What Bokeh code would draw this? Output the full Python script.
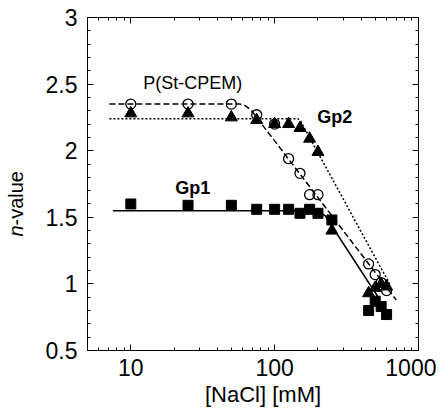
import math
from bokeh.plotting import figure
from bokeh.layouts import row, column
from bokeh.models import FixedTicker, LinearAxis, LogAxis, Label
from bokeh.core.properties import value
from bokeh.embed import file_html
from bokeh.resources import INLINE

# ---- data ----
circ_x = [10, 25, 50, 75, 100, 125, 150, 175, 200, 450, 500, 550, 600]
circ_y = [2.35, 2.35, 2.35, 2.27, 2.20, 1.94, 1.83, 1.67, 1.67, 1.15, 1.07, 1.01, 0.95]

tri_x = [10, 25, 50, 75, 100, 125, 150, 175, 200, 250, 450, 500, 550, 600]
tri_y = [2.28, 2.28, 2.25, 2.23, 2.20, 2.20, 2.17, 2.09, 1.99, 1.40, 0.93, 0.97, 1.00, 0.98]

sq_x = [10, 25, 50, 75, 100, 125, 150, 175, 200, 250, 450, 500, 550, 600]
sq_y = [1.60, 1.59, 1.59, 1.56, 1.56, 1.56, 1.53, 1.56, 1.53, 1.48, 0.80, 0.87, 0.83, 0.77]

# fitted curves (vertices)
gp1_x = [7.5, 185, 205, 225, 525]
gp1_y = [1.55, 1.55, 1.54, 1.51, 0.90]
cpem_x = [7.1, 57, 62, 68, 700]
cpem_y = [2.35, 2.35, 2.34, 2.31, 0.88]
gp2_x = [7.1, 145, 152, 630]
gp2_y = [2.24, 2.24, 2.22, 1.00]

x_ticks = [10, 100, 1000]
x_tick_labels = ["10", "100", "1000"]
y_ticks = [0.5, 1, 1.5, 2, 2.5, 3]
y_tick_labels = ["0.5", "1", "1.5", "2", "2.5", "3"]

FONT = "Liberation Sans"
H = 408       # total height
LW = 40       # width of the y-title strip
XH = 27       # height of the x-title strip
PW = 436 - LW

p = figure(width=PW, height=H - XH, x_axis_type="log", x_range=(5, 1000), y_range=(0.5, 3),
           output_backend="svg", toolbar_location=None,
           min_border_left=87 - LW, min_border_right=18, min_border_top=17,
           min_border_bottom=H - XH - 350)
p.xgrid.grid_line_color = None
p.ygrid.grid_line_color = None
p.outline_line_color = "black"
p.outline_line_width = 1
p.background_fill_color = "white"
p.border_fill_color = "white"

x_minor = [m * d for d in [1, 10, 100] for m in range(2, 10) if 5 <= m * d <= 1000]
y_minor = [round(0.5 + 0.1 * i, 2) for i in range(26)]

xt = FixedTicker(ticks=x_ticks, minor_ticks=x_minor)
yt = FixedTicker(ticks=y_ticks, minor_ticks=y_minor)


def style(ax, show, standoff=9):
    ax.axis_line_color = "black"
    ax.major_tick_line_color = "black"
    ax.minor_tick_line_color = "black"
    ax.major_tick_in = 6
    ax.major_tick_out = 0
    ax.minor_tick_in = 3
    ax.minor_tick_out = 0
    if show:
        ax.major_label_text_font = FONT
        ax.major_label_text_font_size = "23px"
        ax.major_label_text_color = "black"
        ax.major_label_standoff = standoff
    else:
        ax.major_label_text_font_size = "2px"
        ax.major_label_text_alpha = 0
        ax.major_label_standoff = 0


xa = p.xaxis[0]
xa.ticker = xt
xa.major_label_overrides = {t: s for t, s in zip(x_ticks, x_tick_labels)}
style(xa, True, 8)

ya = p.yaxis[0]
ya.ticker = yt
ya.major_label_overrides = {t: s for t, s in zip(y_ticks, y_tick_labels)}
style(ya, True, 10)

top = LogAxis(ticker=xt)
style(top, False)
p.add_layout(top, "above")
right = LinearAxis(ticker=yt)
style(right, False)
p.add_layout(right, "right")

# curves
p.line(gp1_x, gp1_y, line_color="black", line_width=1.5)
p.line(cpem_x, cpem_y, line_color="black", line_width=1.5, line_dash="6 3")
p.line(gp2_x, gp2_y, line_color="black", line_width=1.5, line_dash="2 2")

# markers
p.scatter(sq_x, sq_y, marker="square", size=10, fill_color="black", line_color="black")
p.scatter(tri_x, tri_y, marker="triangle", size=12, fill_color="black", line_color="black")
p.scatter(circ_x, circ_y, marker="circle", size=10, fill_color=None, line_color="black", line_width=1.3)

# annotations
p.add_layout(Label(x=27, y=2.51, text="P(St-CPEM)", text_font=FONT, text_font_size="18px",
                   text_align="center", text_baseline="middle", text_color="black"))
p.add_layout(Label(x=27, y=1.72, text="Gp1", text_font=FONT, text_font_size="18px",
                   text_font_style="bold", text_align="center", text_baseline="middle", text_color="black"))
p.add_layout(Label(x=262, y=2.25, text="Gp2", text_font=FONT, text_font_size="18px",
                   text_font_style="bold", text_align="center", text_baseline="middle", text_color="black"))


def strip(w, h):
    f = figure(width=w, height=h, x_range=(0, w), y_range=(0, h), output_backend="svg",
               toolbar_location=None, min_border=0, outline_line_color=None)
    f.axis.visible = False
    f.xgrid.grid_line_color = None
    f.ygrid.grid_line_color = None
    f.background_fill_color = "white"
    f.border_fill_color = "white"
    return f


# y title strip (italic n + "-value")
yl = strip(LW, H)
jx, jy = 15, H - 225
yl.text(x=[jx], y=[jy], text=["n"], angle=math.pi / 2, text_font=value(FONT), text_font_size="20px",
        text_font_style="italic", text_align="right", text_baseline="middle", text_color="black")
yl.text(x=[jx], y=[jy], text=["-value"], angle=math.pi / 2, text_font=value(FONT), text_font_size="20px",
        text_align="left", text_baseline="middle", text_color="black")

# x title strip
xl = strip(PW, XH)
xl.text(x=[250 - LW], y=[XH - (394 - (H - XH))], text=["[NaCl] [mM]"], text_font=value(FONT),
        text_font_size="22px", text_align="center", text_baseline="middle", text_color="black")

layout = row(yl, column(p, xl, spacing=0), spacing=0)
open("out.html", "w").write(file_html(layout, INLINE))
